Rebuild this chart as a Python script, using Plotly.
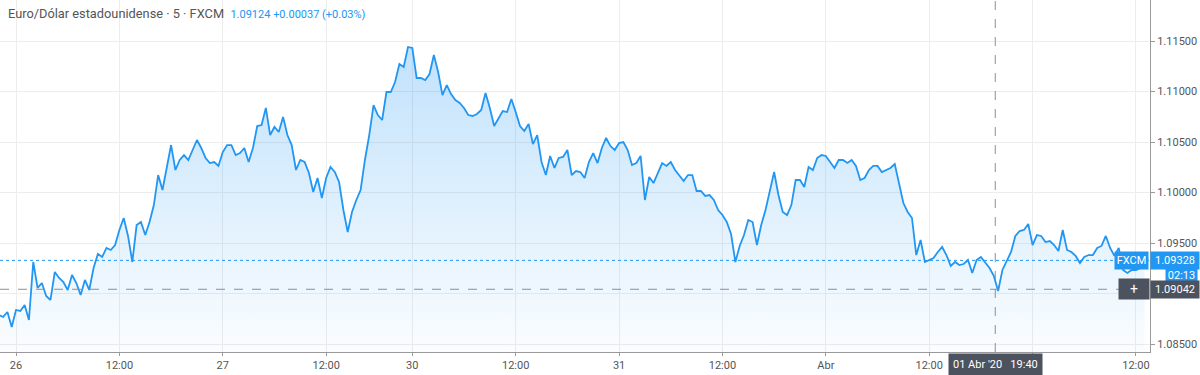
import plotly.graph_objects as go

# EUR/USD 5-min chart, sampled every 30 min (hours of trading since 26 Mar 00:00, weekend gap removed)
start_hour = -2.0
step_hours = 0.5
prices = [
    1.08787, 1.08768, 1.08817, 1.08669, 1.08837, 1.08827, 1.08886, 1.08738, 1.09312, 1.09055,
    1.09104, 1.08976, 1.08936, 1.09213, 1.09154, 1.09114, 1.09035, 1.09183, 1.09104, 1.08985,
    1.09134, 1.09035, 1.09253, 1.09391, 1.09362, 1.09451, 1.09431, 1.09480, 1.09629, 1.09748,
    1.09570, 1.09312, 1.09678, 1.09708, 1.09579, 1.09708, 1.09876, 1.10173, 1.10025, 1.10263,
    1.10470, 1.10223, 1.10322, 1.10371, 1.10322, 1.10421, 1.10520, 1.10441, 1.10342, 1.10292,
    1.10302, 1.10263, 1.10401, 1.10470, 1.10470, 1.10371, 1.10391, 1.10441, 1.10302, 1.10441,
    1.10658, 1.10668, 1.10837, 1.10569, 1.10649, 1.10599, 1.10748, 1.10569, 1.10470, 1.10223,
    1.10322, 1.10302, 1.10193, 1.10005, 1.10144, 1.09946, 1.10144, 1.10253, 1.10203, 1.10104,
    1.09827, 1.09609, 1.09807, 1.09926, 1.10025, 1.10322, 1.10569, 1.10866, 1.10767, 1.10718,
    1.10995, 1.10995, 1.11094, 1.11272, 1.11243, 1.11441, 1.11431, 1.11134, 1.11134, 1.11114,
    1.11173, 1.11361, 1.11193, 1.10965, 1.11064, 1.10975, 1.10916, 1.10886, 1.10837, 1.10767,
    1.10758, 1.10777, 1.10817, 1.10985, 1.10837, 1.10658, 1.10728, 1.10807, 1.10797, 1.10926,
    1.10797, 1.10658, 1.10609, 1.10678, 1.10480, 1.10569, 1.10302, 1.10173, 1.10362, 1.10243,
    1.10342, 1.10352, 1.10421, 1.10173, 1.10213, 1.10203, 1.10144, 1.10302, 1.10391, 1.10292,
    1.10441, 1.10540, 1.10460, 1.10421, 1.10490, 1.10500, 1.10421, 1.10272, 1.10292, 1.10362,
    1.09926, 1.10154, 1.10094, 1.10193, 1.10292, 1.10263, 1.10302, 1.10223, 1.10164, 1.10114,
    1.10173, 1.10173, 1.10015, 1.10015, 1.09966, 1.09975, 1.09926, 1.09827, 1.09777, 1.09708,
    1.09589, 1.09312, 1.09471, 1.09579, 1.09728, 1.09708, 1.09480, 1.09678, 1.09827, 1.10005,
    1.10203, 1.09975, 1.09807, 1.09777, 1.09876, 1.10124, 1.10124, 1.10055, 1.10253, 1.10223,
    1.10342, 1.10371, 1.10362, 1.10302, 1.10243, 1.10322, 1.10322, 1.10292, 1.10322, 1.10263,
    1.10124, 1.10144, 1.10223, 1.10263, 1.10263, 1.10203, 1.10223, 1.10243, 1.10282, 1.10094,
    1.09896, 1.09807, 1.09748, 1.09381, 1.09530, 1.09312, 1.09332, 1.09352, 1.09411, 1.09461,
    1.09381, 1.09273, 1.09312, 1.09282, 1.09292, 1.09332, 1.09203, 1.09332, 1.09362, 1.09302,
    1.09253, 1.09174, 1.09025, 1.09233, 1.09322, 1.09411, 1.09570, 1.09619, 1.09629, 1.09688,
    1.09480, 1.09579, 1.09570, 1.09510, 1.09520, 1.09480, 1.09421, 1.09629, 1.09431, 1.09411,
    1.09372, 1.09302, 1.09362, 1.09381, 1.09381, 1.09451, 1.09471, 1.09570, 1.09451, 1.09372,
    1.09451, 1.09233, 1.09203, 1.09233, 1.09233, 1.09253, 1.09328,
]
hours = [start_hour + step_hours * i for i in range(len(prices))]

x_tick_hours = [0, 12, 24, 36, 46, 58, 70, 82, 94, 106, 118, 130]
x_tick_labels = ["26", "12:00", "27", "12:00", "30", "12:00", "31", "12:00", "Abr", "12:00", "", "12:00"]
y_tick_values = [1.085, 1.090, 1.095, 1.100, 1.105, 1.110, 1.115]
# 1.09000 is hidden behind the crosshair price label in the original
y_tick_labels = ["1.08500", "", "1.09500", "1.10000", "1.10500", "1.11000", "1.11500"]

title_text = "Euro/Dólar estadounidense · 5 · FXCM"
quote_text = "1.09124 +0.00037 (+0.03%)"
last_price = 1.09328
last_price_text = "1.09328"
countdown_text = "02:13"
crosshair_hour = 113.667
crosshair_price = 1.09042
crosshair_price_text = "1.09042"
crosshair_time_text = "01 Abr '20\u00a0\u00a0\u00a019:40"

x_range = [-1.86, 131.63]
y_range = [1.08421, 1.11906]

BLUE = "#2196F3"
DARK = "#4c525e"
TXT = "#555555"
GRID = "#ededed"
AXIS = "#9a9a9a"
FONT = "Roboto, 'Noto Sans', sans-serif"

fig = go.Figure()
fig.add_trace(go.Scatter(
    x=hours, y=prices, mode="lines",
    line=dict(color=BLUE, width=1.8),
    fill="tozeroy",
    fillgradient=dict(type="vertical",
                      colorscale=[[0, "rgba(33,150,243,0.02)"], [1, "rgba(33,150,243,0.28)"]],
                      start=y_range[0], stop=1.1145),
    hoverinfo="skip", showlegend=False,
))

shapes = [
    dict(type="line", xref="paper", yref="y", x0=0, x1=1, y0=last_price, y1=last_price,
         line=dict(color=BLUE, width=1, dash="dot")),
    dict(type="line", xref="paper", yref="y", x0=0, x1=1, y0=crosshair_price, y1=crosshair_price,
         line=dict(color="#8a8f99", width=1, dash="dash")),
    dict(type="line", xref="x", yref="paper", x0=crosshair_hour, x1=crosshair_hour, y0=0, y1=1,
         line=dict(color="#8a8f99", width=1, dash="dash")),
]

annotations = [
    dict(xref="paper", yref="paper", x=0, y=1, xanchor="left", yanchor="top", xshift=6, yshift=-4,
         showarrow=False, align="left",
         text=(title_text + "\u00a0\u00a0<span style='color:%s;font-size:11px'>%s</span>" % (BLUE, quote_text)),
         font=dict(family=FONT, size=12.8, color=TXT)),
    dict(xref="paper", yref="y", x=1, y=last_price, xanchor="left", yanchor="middle", xshift=0,
         showarrow=False, text=last_price_text, bgcolor=BLUE, borderpad=2, width=44,
         font=dict(family=FONT, size=11, color="white")),
    dict(xref="paper", yref="y", x=1, y=last_price, xanchor="right", yanchor="middle", xshift=-1,
         showarrow=False, text="FXCM", bgcolor=BLUE, borderpad=2, width=29,
         font=dict(family=FONT, size=11, color="white")),
    dict(xref="paper", yref="y", x=1, y=last_price, xanchor="left", yanchor="top", xshift=15, yshift=-8,
         showarrow=False, text=countdown_text, bgcolor=BLUE, borderpad=0, width=31, height=13,
         font=dict(family=FONT, size=11, color="white")),
    dict(xref="paper", yref="y", x=1, y=crosshair_price, xanchor="left", yanchor="middle",
         showarrow=False, text=crosshair_price_text, bgcolor=DARK, borderpad=2, width=44,
         font=dict(family=FONT, size=11, color="white")),
    dict(xref="paper", yref="y", x=1, y=crosshair_price, xanchor="right", yanchor="middle",
         showarrow=False, text="+", bgcolor=DARK, borderpad=2, width=26,
         font=dict(family=FONT, size=14, color="white")),
    dict(xref="x", yref="paper", x=crosshair_hour, y=0, xanchor="center", yanchor="top", yshift=-1,
         showarrow=False, text=crosshair_time_text, bgcolor=DARK, borderpad=4,
         font=dict(family=FONT, size=11, color="white")),
]

fig.update_layout(
    width=1200, height=375,
    margin=dict(l=0, r=50, t=0, b=23),
    paper_bgcolor="white", plot_bgcolor="white",
    font=dict(family=FONT, size=11, color=TXT),
    shapes=shapes, annotations=annotations,
    hovermode=False,
    xaxis=dict(range=x_range, tickmode="array", tickvals=x_tick_hours, ticktext=x_tick_labels,
               showgrid=True, gridcolor=GRID, gridwidth=1, zeroline=False,
               showline=True, linecolor=AXIS, linewidth=1,
               ticks="outside", ticklen=3, tickcolor=AXIS,
               tickfont=dict(family=FONT, size=11, color=TXT), fixedrange=True),
    yaxis=dict(range=y_range, side="right", tickmode="array", tickvals=y_tick_values,
               ticktext=y_tick_labels, showgrid=True, gridcolor=GRID, gridwidth=1, zeroline=False,
               showline=True, linecolor=AXIS, linewidth=1,
               ticks="outside", ticklen=4, tickcolor=AXIS,
               tickfont=dict(family=FONT, size=11, color=TXT), fixedrange=True),
)

fig.write_html("out.html", config={"displayModeBar": False, "staticPlot": True})
